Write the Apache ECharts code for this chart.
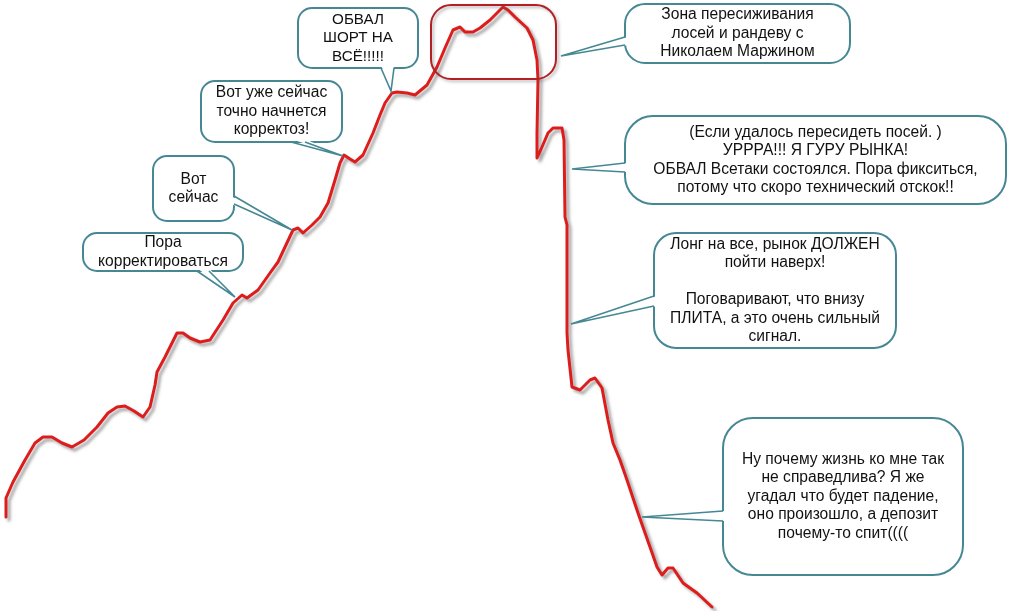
<!DOCTYPE html>
<html>
<head>
<meta charset="utf-8">
<script src="https://cdn.jsdelivr.net/npm/echarts@6/dist/echarts.min.js"></script>
<style>
html,body{margin:0;padding:0;background:#fff;}
#chart{width:1013px;height:611px;}
</style>
</head>
<body>
<div id="chart"></div>
<script>
// time axis (arbitrary units) and price (arbitrary units)
const days = [6,6,13,25,35,43,52,62,72,84,97,108,117,125,134,143,150,155,157,165,177,183,190,200,210,223,233,242,247,258,270,278,285,293,298,303,312,320,328,335,340,344,350,355,363,373,380,385,392,397,407,415,427,437,445,453,460,465,473,480,490,503,508,515,527,533,537,538,537,537,542,548,553,562,564,565,567,567,568,572,580,590,595,602,608,613,620,627,638,650,657,662,668,673,683,697,712];
const price = [94,113,129,151,168,174,174,168,164,171,184,198,204,205,200,194,204,226,239,254,278,278,273,269,271,291,308,316,313,321,338,349,364,381,383,378,386,394,408,431,448,456,452,449,456,478,496,508,518,519,518,516,526,544,563,581,584,579,579,583,591,604,601,594,583,571,551,531,478,453,464,478,483,483,471,394,386,278,261,224,221,231,233,223,191,168,151,131,98,64,44,36,43,43,28,18,4];

const calloutTexts = [
  'Пора\nкорректироваться',
  'Вот\nсейчас',
  'Вот уже сейчас\nточно начнется\nкорректоз!',
  'ОБВАЛ\nШОРТ НА\nВСЁ!!!!!',
  'Зона пересиживания\nлосей и рандеву с\nНиколаем Маржином',
  '(Если удалось пересидеть посей. )\nУРРРА!!! Я ГУРУ РЫНКА!\nОБВАЛ Всетаки состоялся. Пора фикситься,\nпотому что скоро технический отскок!!',
  'Лонг на все, рынок ДОЛЖЕН\nпойти наверх!\n\nПоговаривают, что внизу\nПЛИТА, а это очень сильный\nсигнал.',
  'Ну почему жизнь ко мне так\nне справедлива? Я же\nугадал что будет падение,\nоно произошло, а депозит\nпочему-то спит(((('
];
// pointer tips in data units [day, price]
const calloutTips = [[235,314],[292,381],[343,455],[391,520],[561,555],[572,442],[571,287],[642,94]];

// layout of bubbles (pixels)
const bubbleLayout = [
  {box:[83,233,160,38,14], side:'bottom', base:[[197,271],[209,271]], fs:15.6},
  {box:[153,156,81,65,14], side:'right', base:[[234,196],[234,204]], fs:15.6},
  {box:[201,81,141,61,14], side:'bottom', base:[[291,142],[305,142]], fs:15.6},
  {box:[298,8,120,60,14], side:'bottom', base:[[381,68],[394,68]], fs:15.2},
  {box:[625,4,225,59,20], side:'left', base:[[625,37],[625,45]], fs:15.6},
  {box:[625,116,381,88,28], side:'left', base:[[625,163],[625,172]], fs:15.6},
  {box:[654,233,242,115,22], side:'left', base:[[654,296],[654,306]], fs:15.6},
  {box:[723,418,240,157,30], side:'left', base:[[723,511],[723,521]], fs:15.6}
];
const zoneBox = [431,5,125,74,20];

const BORDER = '#458894';

const chart = echarts.init(document.getElementById('chart'));
chart.setOption({
  animation: false,
  backgroundColor: '#fff',
  grid: {left:0, right:0, top:0, bottom:0},
  xAxis: {type:'value', min:0, max:1013, show:false},
  yAxis: {type:'value', min:0, max:611, show:false},
  series: [{
    type: 'line',
    data: days.map((d,i)=>[d, price[i]]),
    showSymbol: false,
    smooth: false,
    lineStyle: {
      color: '#dd1c1c', width: 3, cap:'round', join:'round',
      shadowColor: 'rgba(90,90,90,0.55)', shadowBlur: 3, shadowOffsetX: 3, shadowOffsetY: 3
    },
    z: 2
  }]
});

const els = [];
bubbleLayout.forEach((b, i) => {
  const [x,y,w,h,r] = b.box;
  const tip = chart.convertToPixel({gridIndex:0}, calloutTips[i]);
  const inset = {bottom:[0,-3], top:[0,3], left:[3,0], right:[-3,0]}[b.side];
  els.push({
    type:'rect', z:10,
    shape:{x:x, y:y, width:w, height:h, r:r},
    style:{fill:'#fff', stroke:BORDER, lineWidth:2}
  });
  els.push({
    type:'polygon', z:11,
    shape:{points:[[b.base[0][0]+inset[0], b.base[0][1]+inset[1]], tip, [b.base[1][0]+inset[0], b.base[1][1]+inset[1]]]},
    style:{fill:'#fff', stroke:null}
  });
  els.push({
    type:'polyline', z:12,
    shape:{points:[b.base[0], tip, b.base[1]]},
    style:{stroke:BORDER, lineWidth:1.6, fill:null}
  });
  els.push({
    type:'text', z:13,
    style:{
      text: calloutTexts[i], x: x + w/2, y: y + h/2,
      align:'center', verticalAlign:'middle',
      font: b.fs + 'px "Liberation Sans", Arial, sans-serif', lineHeight: 18.5, fill:'#111'
    }
  });
});
els.push({
  type:'rect', z:9,
  shape:{x:zoneBox[0], y:zoneBox[1], width:zoneBox[2], height:zoneBox[3], r:zoneBox[4]},
  style:{fill:null, stroke:'#b41f24', lineWidth:2,
    shadowColor:'rgba(90,90,90,0.45)', shadowBlur:3, shadowOffsetX:2, shadowOffsetY:2}
});
chart.setOption({graphic: {elements: els}});
</script>
</body>
</html>
